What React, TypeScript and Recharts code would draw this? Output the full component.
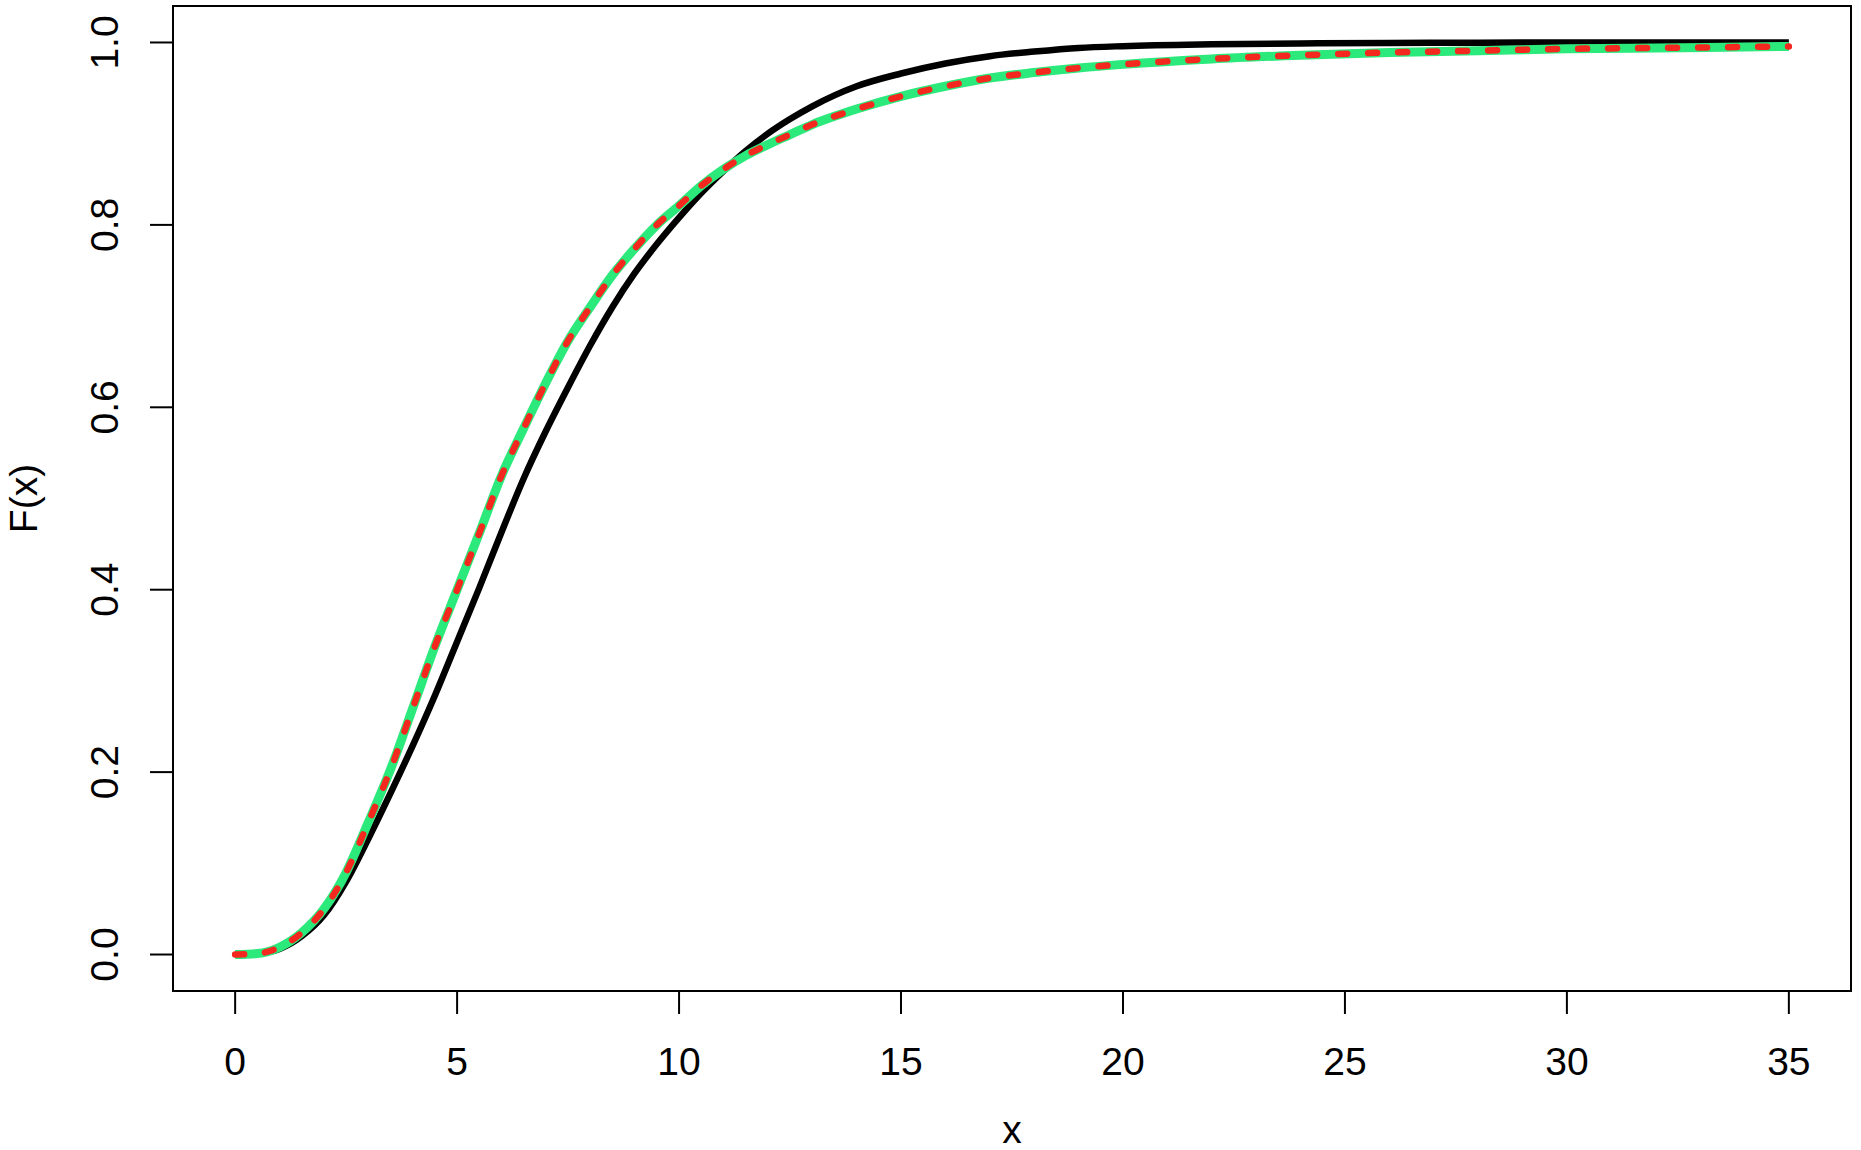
import React from "react";
import { LineChart, Line, XAxis, YAxis, ReferenceArea } from "recharts";

const xValues = [0, 0.5, 1, 1.5, 2, 2.5, 3, 3.5, 4, 4.5, 5, 5.5, 6, 6.5, 7, 7.5, 8, 8.5, 9, 9.5, 10, 10.5, 11, 11.5, 12, 12.5, 13, 13.5, 14, 15, 16, 17, 18, 19, 20, 22, 24, 26, 28, 30, 32, 35];
const theoreticalCdf = [0, 0.001, 0.006, 0.02, 0.043, 0.08, 0.127, 0.177, 0.229, 0.284, 0.343, 0.402, 0.463, 0.522, 0.574, 0.622, 0.668, 0.71, 0.747, 0.779, 0.808, 0.835, 0.859, 0.881, 0.9, 0.916, 0.93, 0.942, 0.952, 0.966, 0.977, 0.985, 0.99, 0.994, 0.996, 0.998, 0.999, 0.9995, 0.9998, 0.9999, 1.0, 1.0];
const fittedCdf = [0, 0.001, 0.008, 0.024, 0.05, 0.09, 0.145, 0.203, 0.27, 0.338, 0.4, 0.462, 0.525, 0.577, 0.627, 0.673, 0.71, 0.745, 0.774, 0.8, 0.821, 0.843, 0.861, 0.876, 0.888, 0.899, 0.91, 0.919, 0.927, 0.941, 0.952, 0.961, 0.967, 0.972, 0.976, 0.982, 0.986, 0.989, 0.991, 0.993, 0.994, 0.9956];
const estimatedCdf = [0, 0.001, 0.008, 0.024, 0.05, 0.09, 0.145, 0.203, 0.27, 0.338, 0.4, 0.462, 0.525, 0.577, 0.627, 0.673, 0.71, 0.745, 0.774, 0.8, 0.821, 0.843, 0.861, 0.876, 0.888, 0.899, 0.91, 0.919, 0.927, 0.941, 0.952, 0.961, 0.967, 0.972, 0.976, 0.982, 0.986, 0.989, 0.991, 0.993, 0.994, 0.9956];
const xTicks = [0, 5, 10, 15, 20, 25, 30, 35];
const yTicks = [0, 0.2, 0.4, 0.6, 0.8, 1.0];

const data = xValues.map((x, i) => ({
  x,
  theo: theoreticalCdf[i],
  fit: fittedCdf[i],
  est: estimatedCdf[i],
}));

const FONT = "'Liberation Sans', Arial, Helvetica, sans-serif";
const FS = 39;

const XTick = (props: any) => {
  const { x, payload } = props;
  return (
    <text x={x} y={1075} textAnchor="middle" fontSize={FS} fontFamily={FONT} fill="#000">
      {String(payload.value)}
    </text>
  );
};

const YTick = (props: any) => {
  const { y, payload } = props;
  return (
    <text
      transform={`translate(118,${y}) rotate(-90)`}
      textAnchor="middle"
      fontSize={FS}
      fontFamily={FONT}
      fill="#000"
    >
      {Number(payload.value).toFixed(1)}
    </text>
  );
};

export default function App() {
  return (
    <div style={{ position: "absolute", left: 0, top: 0, background: "#fff" }}>
      <LineChart
        width={1861}
        height={1150}
        data={data}
        margin={{ top: 6, right: 10, bottom: 0, left: 0 }}
      >
        <XAxis
          dataKey="x"
          type="number"
          domain={[-1.4, 36.4]}
          ticks={xTicks}
          allowDataOverflow
          axisLine={false}
          tickLine={{ stroke: "#000", strokeWidth: 2 }}
          tickSize={23}
          height={159}
          tick={XTick}
          label={{
            content: () => (
              <text x={1012} y={1143} textAnchor="middle" fontSize={FS} fontFamily={FONT} fill="#000">
                x
              </text>
            ),
          }}
        />
        <YAxis
          type="number"
          domain={[-0.04, 1.04]}
          ticks={yTicks}
          allowDataOverflow
          axisLine={false}
          tickLine={{ stroke: "#000", strokeWidth: 2 }}
          tickSize={23}
          width={173}
          tick={YTick}
          label={{
            content: () => (
              <text
                transform="translate(37,498.5) rotate(-90)"
                textAnchor="middle"
                fontSize={FS}
                fontFamily={FONT}
                fill="#000"
              >
                F(x)
              </text>
            ),
          }}
        />
        <ReferenceArea
          x1={-1.4}
          x2={36.4}
          y1={-0.04}
          y2={1.04}
          fill="none"
          fillOpacity={0}
          stroke="#000"
          strokeWidth={2}
          strokeOpacity={1}
          ifOverflow="visible"
        />
        <Line
          type="monotone"
          dataKey="theo"
          stroke="#000"
          strokeWidth={6.5}
          dot={false}
          activeDot={false}
          isAnimationActive={false}
        />
        <Line
          type="monotone"
          dataKey="fit"
          stroke="#2BE97B"
          strokeWidth={9}
          dot={false}
          activeDot={false}
          isAnimationActive={false}
        />
        <Line
          type="monotone"
          dataKey="est"
          stroke="#F5281F"
          strokeWidth={6.5}
          strokeDasharray="9 21"
          strokeLinecap="round"
          dot={false}
          activeDot={false}
          isAnimationActive={false}
        />
      </LineChart>
    </div>
  );
}
